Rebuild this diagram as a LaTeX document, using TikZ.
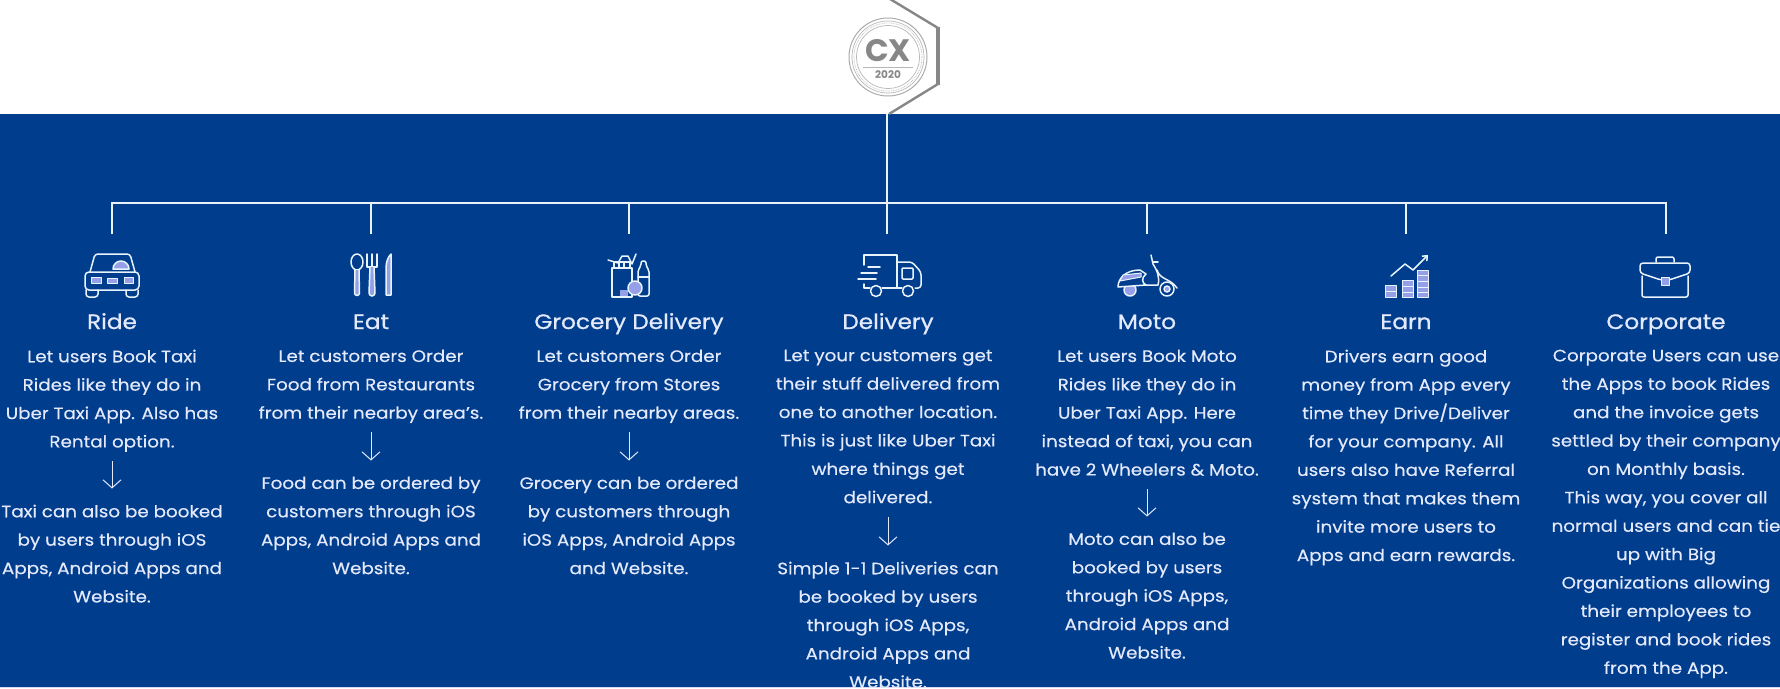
\documentclass[tikz,border=0pt]{standalone}
\usepackage{fontspec}
\setmainfont{Poppins}[FakeStretch=1.11,FakeBold=0.35]
\newfontfamily\logofont{Poppins}
\newfontfamily\titlefont{Poppins}[FakeStretch=1.11,FakeBold=0.8]
\usetikzlibrary{arrows.meta}
\definecolor{bandblue}{RGB}{0,61,141}
\definecolor{paleline}{RGB}{232,243,252}
\definecolor{paletext}{RGB}{228,233,252}
\definecolor{lavender}{RGB}{150,160,232}
\definecolor{logogray}{RGB}{135,135,135}
\tikzset{
  wire/.style={paleline, line width=2.8pt},
  downarrow/.style={paletext, line width=1pt, ->, shorten <=5pt, shorten >=16pt},
  bodytext/.style={anchor=north, inner sep=0pt, align=center, text=paletext,
    font=\fontsize{16.5}{28.4}\selectfont, execute at begin node=\strut},
  titletext/.style={anchor=base, inner sep=0pt, text=paletext, font=\titlefont\fontsize{20.9}{24}\selectfont},
  icon/.style={paleline, line width=1.5pt, line join=round, line cap=round},
  iconfill/.style={icon, fill=lavender},
  logoline/.style={logogray, line width=2.4pt},
  logoring/.style={logogray!60, line width=.7pt}
}
\begin{document}
\begin{tikzpicture}[x=1pt, y=-1pt, >={Straight Barb[length=8pt,width=18pt]}]
    \useasboundingbox (0,0) rectangle (1780,688);
    \fill[white] (0,0) rectangle (1780,688);
    \fill[bandblue] (0,114) rectangle (1780,687);
    \fill[lavender!40] (0,687) rectangle (1780,688);

    \draw[logoline] (890,-1) -- (938,28);
    \draw[logoline] (938,84) -- (889,114);
    \draw[logoline, line width=4.4pt] (938,27) -- (938,85);
    \node[circle, draw=logogray!70, line width=1pt, minimum size=78pt, inner sep=0pt] (logo) at (888,57) {};
    \draw[logoring] (logo) circle (36);
    \draw[logoring, densely dotted] (logo) circle (34);
    \draw[logoring] (logo) circle (31.5);
    \node[inner sep=0pt, text=logogray, font=\logofont\fontsize{31}{31}\selectfont\bfseries] (cxmark) at (888,51) {CX};
    \node[inner sep=0pt, text=logogray, font=\logofont\fontsize{10.5}{11}\selectfont\bfseries] (cxyear) at (888,75) {2020};
    \draw[logoring] (863,67) -- (913,67);

    \coordinate (hexfoot) at (887,114);
    \coordinate (busride) at (112,203);
    \coordinate (buseat) at (371,203);
    \coordinate (busgrocery) at (629,203);
    \coordinate (busdelivery) at (887,203);
    \coordinate (busmoto) at (1147,203);
    \coordinate (busearn) at (1406,203);
    \coordinate (buscorporate) at (1666,203);
    \coordinate (stubride) at (112,234);
    \coordinate (stubeat) at (371,234);
    \coordinate (stubgrocery) at (629,234);
    \coordinate (stubdelivery) at (887,234);
    \coordinate (stubmoto) at (1147,234);
    \coordinate (stubearn) at (1406,234);
    \coordinate (stubcorporate) at (1666,234);

    \draw[wire] (hexfoot) -- (stubdelivery);
    \draw[wire, line cap=rect] (busride) -- (buscorporate);
    \draw[wire] (busride) -- (stubride);
    \draw[wire] (buseat) -- (stubeat);
    \draw[wire] (busgrocery) -- (stubgrocery);
    \draw[wire] (busmoto) -- (stubmoto);
    \draw[wire] (busearn) -- (stubearn);
    \draw[wire] (buscorporate) -- (stubcorporate);

    \draw[icon, rounded corners=3pt] (90,272) -- (95,254) -- (130,254) -- (135,272);
    \draw[iconfill] (113,269) arc (180:360:8 and 8) -- cycle;
    \draw[icon, rounded corners=4pt] (85,272) rectangle (139,290);
    \draw[icon, rounded corners=3pt] (86,290) -- (86,297) -- (98,297) -- (98,290);
    \draw[icon, rounded corners=3pt] (126,290) -- (126,297) -- (138,297) -- (138,290);
    \draw[iconfill, line width=1pt] (91,277) rectangle (101,283);
    \draw[iconfill, line width=1pt] (107,278) rectangle (117,283);
    \draw[iconfill, line width=1pt] (124,277) rectangle (133,283);

    \draw[icon] (357,262) ellipse (6 and 8);
    \draw[iconfill] (355,270) -- (354.5,293) arc (180:0:2.5) -- (359,270);
    \draw[icon] (367,254) -- (367,267) -- (377,267) -- (377,254);
    \draw[icon] (372,254) -- (372,267);
    \draw[iconfill] (370,267) -- (369,293) arc (180:0:3) -- (374,267);
    \draw[iconfill] (386,295) -- (386,268) .. controls (386,262) and (388,257) .. (391,254) -- (391,295) -- cycle;

    \draw[icon] (612,268) rectangle (632,297);
    \draw[icon] (608,260) -- (618,263) -- (622,256) -- (628,256) -- (632,264) -- (636,254);
    \draw[icon] (614,268) -- (614,262) -- (630,262) -- (630,268);
    \draw[icon] (619,262) -- (619,267) (624,262) -- (624,267);
    \fill[lavender] (620,290) rectangle (628,296);
    \draw[icon, rounded corners=2pt] (638,296) -- (638,270) -- (641,266) -- (641,261) -- (646,261) -- (646,266) -- (649,270) -- (649,296) -- cycle;
    \draw[icon] (638,277) -- (649,277);
    \draw[iconfill] (635,288) circle (7);

    \draw[icon] (864,265) -- (864,255) -- (897,255) -- (897,287);
    \draw[icon, rounded corners=3pt] (897,262) -- (912,262) -- (921,272) -- (921,288) -- (915,288);
    \draw[icon, rounded corners=1pt] (902,268) rectangle (913,279);
    \draw[icon] (868,267) -- (880,267);
    \draw[icon] (861,273) -- (877,273);
    \draw[icon] (858,279) -- (876,279);
    \draw[icon] (864,284) -- (864,288) -- (870,288);
    \draw[icon] (882,288) -- (902,288);
    \draw[icon] (876,291) circle (5.5);
    \draw[icon] (908,291) circle (5.5);

    \draw[iconfill] (1130,290) circle (6);
    \draw[icon, fill=bandblue] (1118,287) .. controls (1118,278) and (1126,270) .. (1140,270) -- (1146,274) .. controls (1141,278) and (1142,283) .. (1146,285) -- cycle;
    \draw[icon, fill=lavender, line width=1pt] (1123,275) -- (1141,273) -- (1141,277) -- (1120,281) -- cycle;
    \draw[icon] (1144,285) -- (1158,285) .. controls (1160,277) and (1157,270) .. (1153,264) -- (1151,255);
    \draw[icon] (1153,262) -- (1158,262);
    \draw[icon] (1157,270) .. controls (1160,280) and (1170,278) .. (1177,288);
    \draw[icon] (1167,289) circle (7);
    \draw[iconfill] (1167,289) circle (3);

    \draw[iconfill, line width=1pt] (1385,285) rectangle (1396,297);
    \draw[iconfill, line width=1pt] (1402,280) rectangle (1413,297);
    \draw[iconfill, line width=1pt] (1417,270) rectangle (1428,297);
    \draw[paleline, line width=1pt] (1385,291) -- (1396,291);
    \draw[paleline, line width=1pt] (1402,286) -- (1413,286) (1402,292) -- (1413,292);
    \draw[paleline, line width=1pt] (1417,275) -- (1428,275) (1417,281) -- (1428,281) (1417,287) -- (1428,287) (1417,292) -- (1428,292);
    \draw[icon, -{Straight Barb[length=4pt,width=7pt]}] (1391,276) -- (1405,264) -- (1413,270) -- (1428,255);

    \draw[icon, rounded corners=2pt] (1656,262) -- (1656,257) -- (1674,257) -- (1674,262);
    \draw[icon, rounded corners=3pt] (1640,273) -- (1640,263) -- (1690,263) -- (1690,273) -- (1669,280) -- (1661,280) -- cycle;
    \draw[icon, rounded corners=2pt] (1642,276) -- (1642,297) -- (1688,297) -- (1688,276);
    \draw[iconfill, line width=1pt] (1661,277) rectangle (1669,285);

    \node[titletext] (ridetitle) at (112,329) {Ride};
    \node[bodytext] (ridetop) at (112,349.5) {Let users Book Taxi\\Rides like they do in\\Uber Taxi App. Also has\\Rental option.};
    \node[bodytext] (ridebottom) at (112,504.5) {Taxi can also be booked\\by users through iOS\\Apps, Android Apps and\\Website.};
    \draw[downarrow] (ridetop.south) -- (ridebottom.north);

    \node[titletext] (eattitle) at (371,329) {Eat};
    \node[bodytext] (eattop) at (371,349.5) {Let customers Order\\Food from Restaurants\\from their nearby area's.};
    \node[bodytext] (eatbottom) at (371,476.5) {Food can be ordered by\\customers through iOS\\Apps, Android Apps and\\Website.};
    \draw[downarrow] (eattop.south) -- (eatbottom.north);

    \node[titletext] (grocerytitle) at (629,329) {Grocery Delivery};
    \node[bodytext] (grocerytop) at (629,349.5) {Let customers Order\\Grocery from Stores\\from their nearby areas.};
    \node[bodytext] (grocerybottom) at (629,476.5) {Grocery can be ordered\\by customers through\\iOS Apps, Android Apps\\and Website.};
    \draw[downarrow] (grocerytop.south) -- (grocerybottom.north);

    \node[titletext] (deliverytitle) at (888,329) {Delivery};
    \node[bodytext] (deliverytop) at (888,349.5) {Let your customers get\\their stuff delivered from\\one to another location.\\This is just like Uber Taxi\\where things get\\delivered.};
    \node[bodytext] (deliverybottom) at (888,561.5) {Simple 1-1 Deliveries can\\be booked by users\\through iOS Apps,\\Android Apps and\\Website.};
    \draw[downarrow] (deliverytop.south) -- (deliverybottom.north);

    \node[titletext] (mototitle) at (1147,329) {Moto};
    \node[bodytext] (mototop) at (1147,349.5) {Let users Book Moto\\Rides like they do in\\Uber Taxi App. Here\\instead of taxi, you can\\have 2 Wheelers \& Moto.};
    \node[bodytext] (motobottom) at (1147,532.5) {Moto can also be\\booked by users\\through iOS Apps,\\Android Apps and\\Website.};
    \draw[downarrow] (mototop.south) -- (motobottom.north);

    \node[titletext] (earntitle) at (1406,329) {Earn};
    \node[bodytext] (earntop) at (1406,349.5) {Drivers earn good\\money from App every\\time they Drive/Deliver\\for your company. All\\users also have Referral\\system that makes them\\invite more users to\\Apps and earn rewards.};

    \node[titletext] (corporatetitle) at (1666,329) {Corporate};
    \node[bodytext] (corporatetop) at (1666,349.5) {Corporate Users can use\\the Apps to book Rides\\and the invoice gets\\settled by their company\\on Monthly basis.\\This way, you cover all\\normal users and can tie\\up with Big\\Organizations allowing\\their employees to\\register and book rides\\from the App.};

\end{tikzpicture}
\end{document}
